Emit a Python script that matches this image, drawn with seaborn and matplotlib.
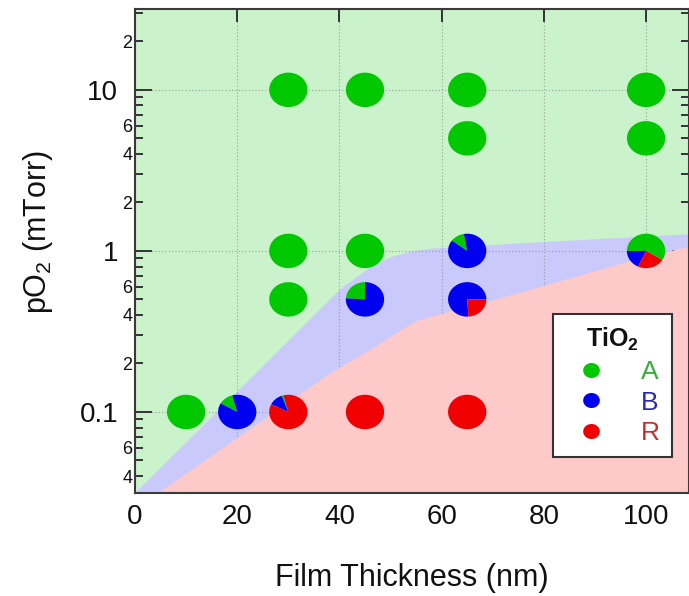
import numpy as np
import matplotlib
matplotlib.use("Agg")
import matplotlib.pyplot as plt
from matplotlib.lines import Line2D
from matplotlib.ticker import FixedLocator, FuncFormatter
import seaborn as sns

# --- data ---
# pie points: film thickness (nm), pO2 (mTorr), phase fractions (anatase, brookite, rutile)
thickness = [10, 20, 30, 45, 65, 30, 45, 65, 30, 45, 65, 100, 65, 100, 30, 45, 65, 100]
po2 = [0.1, 0.1, 0.1, 0.1, 0.1, 0.5, 0.5, 0.5, 1, 1, 1, 1, 5, 5, 10, 10, 10, 10]
frac_A = [1, 0.125, 0.015, 0, 0, 1, 0.24, 0, 1, 1, 0.12, 0.59, 1, 1, 1, 1, 1, 1]
frac_B = [0, 0.875, 0.12, 0, 0, 0, 0.76, 0.76, 0, 0, 0.88, 0.18, 0, 0, 0, 0, 0, 0]
frac_R = [0, 0, 0.865, 1, 1, 0, 0, 0.24, 0, 0, 0, 0.23, 0, 0, 0, 0, 0, 0]
# angle (deg) where the first wedge starts, wedges go counter-clockwise A -> B -> R
start_deg = [90, 105, 105, 90, 90, 90, 90, 0, 90, 90, 100, -32, 90, 90, 90, 90, 90, 90]

# phase boundaries
ab_x = [0, 40, 43, 46, 50, 54, 58, 75, 108.5]
ab_y = [0.0316, 0.58, 0.68, 0.80, 0.92, 1.0, 1.04, 1.12, 1.28]
br_x = [4.5, 38, 46, 51, 55, 60, 65, 75, 100, 108.5]
br_y = [0.0316, 0.174, 0.245, 0.31, 0.37, 0.41, 0.45, 0.55, 0.93, 1.07]

phases = ["A", "B", "R"]
pie_colors = {"A": "#00c800", "B": "#0000f0", "R": "#f00000"}
text_colors = {"A": "#3cac3c", "B": "#2a2ab0", "R": "#c03030"}

sns.set_style("ticks")
plt.rcParams["font.family"] = ["Liberation Sans", "DejaVu Sans"]
plt.rcParams["mathtext.fontset"] = "custom"
plt.rcParams["mathtext.rm"] = "Liberation Sans"
plt.rcParams["mathtext.it"] = "Liberation Sans"
plt.rcParams["mathtext.bf"] = "Liberation Sans:bold"
plt.rcParams["text.color"] = "#111111"
plt.rcParams["axes.labelcolor"] = "#111111"
plt.rcParams["xtick.labelcolor"] = "#111111"
plt.rcParams["ytick.labelcolor"] = "#111111"

fig = plt.figure(figsize=(6.89, 5.96), dpi=100)
ax = fig.add_axes([135 / 689, (596 - 492.5) / 596, 554 / 689, 483.2 / 596])
ax.set_yscale("log")
ymin, ymax = 10 ** -1.5, 10 ** 1.5
ax.set_xlim(0, 108.4)
ax.set_ylim(ymin, ymax)

# regions
ax.set_facecolor("#cbf3cb")
ax.fill_between(ab_x, 0.001, ab_y, color="#c9c9fb", linewidth=0, zorder=0.5)
ax.fill_between(br_x, 0.001, br_y, color="#fdc9c9", linewidth=0, zorder=0.6)

ax.grid(which="major", linestyle=(0, (1, 2)), color="#8a8a8a", linewidth=0.8, alpha=0.8)
ax.set_axisbelow(True)

ELL = 0.9   # pies look slightly wider than tall
S = 760


def wedge(a0, a1):
    t = np.radians(np.linspace(a0, a1, 60))
    xs = np.concatenate([[0], np.cos(t)])
    ys = np.concatenate([[0], ELL * np.sin(t)])
    return np.column_stack([xs, ys])


for i in range(len(thickness)):
    a = start_deg[i]
    for ph, fr in zip(phases, [frac_A[i], frac_B[i], frac_R[i]]):
        if fr <= 0:
            continue
        verts = wedge(a, a + 360 * fr)
        a += 360 * fr
        sns.scatterplot(x=[thickness[i]], y=[po2[i]], marker=verts,
                        s=S * np.abs(verts).max() ** 2, color=pie_colors[ph],
                        edgecolor="none", linewidth=0, ax=ax, zorder=3, legend=False)

# ticks
minor_pos = [m * 10.0 ** e for e in range(-2, 2) for m in range(2, 10)]
ax.yaxis.set_major_locator(FixedLocator([0.1, 1, 10]))
ax.yaxis.set_minor_locator(FixedLocator(minor_pos))
ax.yaxis.set_major_formatter(FuncFormatter(lambda v, p: f"{v:g}"))


def minor_fmt(v, p):
    m = v / 10 ** np.floor(np.log10(v) + 1e-9)
    m = int(round(m))
    return str(m) if m in (2, 4, 6) else ""


ax.yaxis.set_minor_formatter(FuncFormatter(minor_fmt))
ax.set_xticks([0, 20, 40, 60, 80, 100])

tick_col = "#333333"
ax.tick_params(which="both", direction="in", top=True, right=True, color=tick_col, width=1.4)
ax.tick_params(axis="x", which="major", length=9, labelsize=20, pad=8)
ax.tick_params(axis="y", which="major", length=12, labelsize=20, pad=12)
ax.tick_params(axis="y", which="minor", length=6, labelsize=13, pad=2)
for sp in ax.spines.values():
    sp.set_color("#3a3a3a")
    sp.set_linewidth(1.5)
    sp.set_visible(True)

ax.set_xlabel("Film Thickness (nm)", fontsize=22, va="center")
ax.xaxis.set_label_coords(0.5, -0.177)
ax.set_ylabel("pO$_2$ (mTorr)", fontsize=22, va="center")
ax.yaxis.set_label_coords(-0.175, 0.54)

# legend
ell = wedge(0, 360)
handles = [Line2D([], [], marker=ell, linestyle="none", markersize=12,
                  markerfacecolor=pie_colors[p], markeredgecolor="none") for p in phases]
leg = ax.legend(handles, phases, title=r"$\mathbf{TiO_2}$", loc="lower right",
                bbox_to_anchor=(0.969, 0.0735), borderaxespad=0, fontsize=19,
                title_fontsize=18, labelcolor=[text_colors[p] for p in phases],
                frameon=True, fancybox=False, framealpha=1, edgecolor="#333333",
                labelspacing=0.25, borderpad=0.45, handletextpad=0.9)
leg.get_frame().set_linewidth(1.5)
leg.set_zorder(5)

fig.savefig("out.png", dpi=100)
